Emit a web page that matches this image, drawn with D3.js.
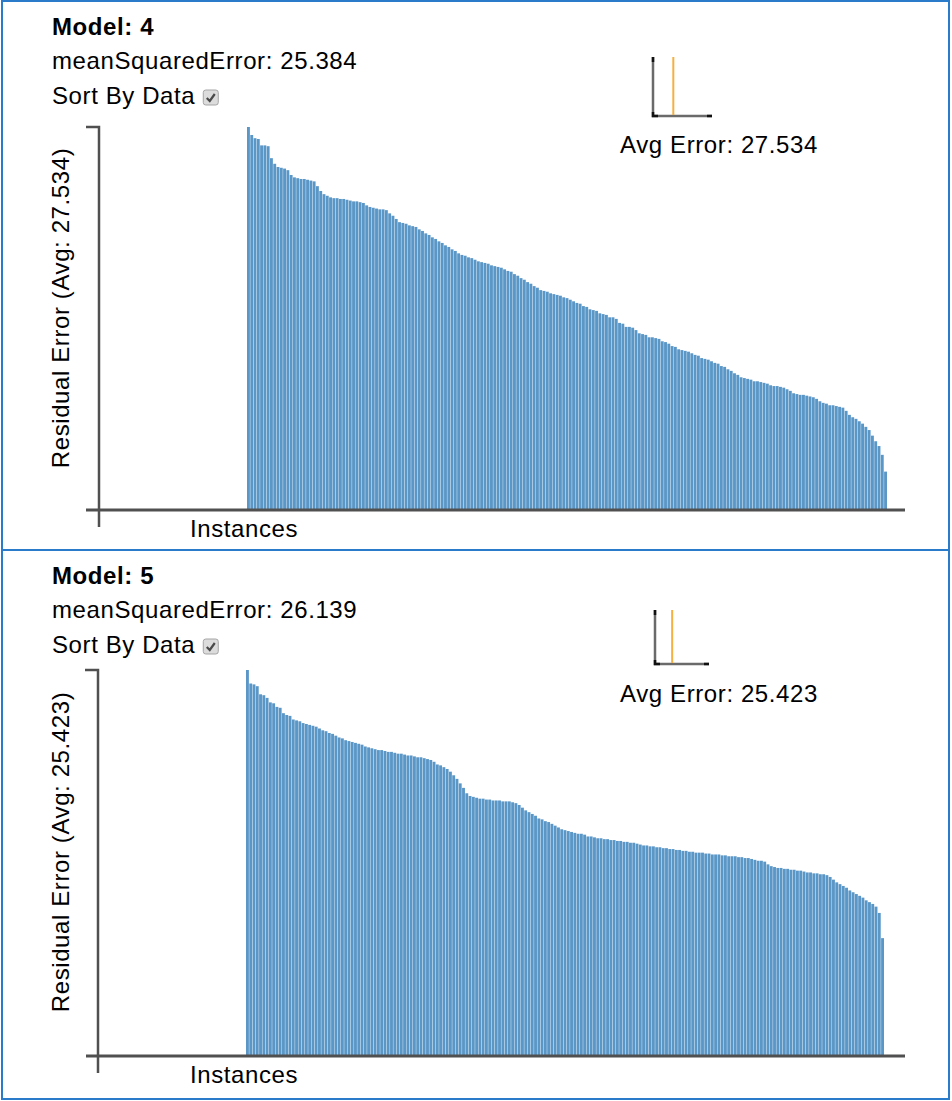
<!DOCTYPE html>
<html>
<head>
<meta charset="utf-8">
<script src="https://cdn.jsdelivr.net/npm/d3@7"></script>
<style>
    body { margin: 0; background: #fff; }
    svg text { font-family: "Liberation Sans", Arial, sans-serif; fill: #000; letter-spacing: 0.6px; }
</style>
</head>
<body>
<div class="d3-canvas"></div>
<script>
// Data (residual error per instance, already sorted)
const modelNames = ["4", "5"];
const mseValues = ["25.384", "26.139"];
const avgErrors = [27.534, 25.423];

const model4Errors = [47.9,46.9,46.5,46.4,45.6,45.6,45.5,44.0,43.3,42.9,
    42.8,42.7,42.5,41.9,41.6,41.5,41.4,41.4,41.3,41.2,
    41.1,40.5,39.9,39.5,39.3,39.1,39.0,39.0,38.9,38.9,
    38.8,38.7,38.6,38.6,38.5,38.4,38.1,37.9,37.8,37.7,
    37.6,37.6,37.5,37.1,36.8,36.4,36.0,35.9,35.8,35.6,
    35.5,35.4,35.1,34.9,34.6,34.4,34.1,33.9,33.6,33.4,
    33.1,32.9,32.6,32.4,32.1,31.9,31.8,31.6,31.5,31.3,
    31.1,31.0,30.9,30.8,30.6,30.5,30.4,30.3,30.1,29.9,
    29.8,29.5,29.3,29.0,28.8,28.5,28.3,28.0,27.8,27.5,
    27.4,27.3,27.1,27.0,26.9,26.8,26.6,26.5,26.3,26.1,
    25.9,25.8,25.5,25.4,25.1,25.0,24.9,24.6,24.5,24.4,
    24.1,24.1,23.9,23.4,23.3,22.9,22.9,22.8,22.5,22.1,
    22.0,21.9,21.6,21.6,21.5,21.4,21.1,21.0,20.8,20.5,
    20.4,20.1,20.0,19.9,19.8,19.6,19.4,19.3,19.0,18.9,
    18.8,18.6,18.4,18.3,18.0,17.9,17.6,17.4,17.1,16.9,
    16.6,16.5,16.4,16.3,16.1,16.1,16.0,15.9,15.8,15.6,
    15.5,15.5,15.4,15.3,15.1,14.9,14.6,14.5,14.4,14.4,
    14.3,14.2,14.1,13.9,13.6,13.4,13.3,13.1,13.1,13.0,
    12.9,12.8,12.4,11.9,11.6,11.4,11.1,10.8,10.4,10.0,
    9.3,8.6,8.0,6.9,4.8];

const model5Errors = [42.9,41.4,41.3,41.1,40.2,40.1,39.8,39.3,39.2,38.8,
    38.7,38.1,37.9,37.8,37.4,37.3,37.2,37.0,36.9,36.8,
    36.7,36.6,36.4,36.2,36.1,35.9,35.8,35.6,35.4,35.3,
    35.1,35.0,34.9,34.8,34.7,34.6,34.4,34.3,34.2,34.1,
    34.0,34.0,33.9,33.8,33.8,33.7,33.6,33.6,33.5,33.4,
    33.4,33.3,33.2,33.2,33.1,33.0,32.9,32.7,32.4,32.3,
    32.1,31.9,31.6,31.2,30.8,30.3,29.8,29.2,28.9,28.8,
    28.7,28.6,28.6,28.5,28.5,28.4,28.4,28.4,28.3,28.3,
    28.3,28.2,28.1,27.9,27.6,27.3,27.1,26.9,26.7,26.4,
    26.3,26.1,26.0,25.8,25.6,25.4,25.2,25.1,25.0,24.9,
    24.8,24.7,24.7,24.6,24.4,24.4,24.3,24.2,24.2,24.1,
    24.1,24.0,24.0,23.9,23.9,23.8,23.8,23.7,23.7,23.6,
    23.5,23.4,23.4,23.3,23.3,23.2,23.2,23.1,23.1,23.0,
    23.0,22.9,22.9,22.8,22.8,22.7,22.7,22.6,22.6,22.6,
    22.5,22.5,22.4,22.4,22.4,22.3,22.3,22.2,22.2,22.2,
    22.1,22.1,22.0,22.0,21.9,21.8,21.7,21.7,21.6,21.3,
    21.1,21.0,20.9,20.9,20.8,20.8,20.7,20.7,20.6,20.6,
    20.5,20.4,20.4,20.3,20.3,20.2,20.2,20.1,19.9,19.6,
    19.3,19.1,18.9,18.7,18.4,18.2,18.0,17.8,17.6,17.3,
    17.1,16.9,16.6,15.9,13.1];

const errorSeries = [model4Errors, model5Errors];

// Constants
const WIDTH = 952;
const HEIGHT = 1101;
const FONT_SIZE = 24;
const BAR_COLOR = "#5a97c7";
const AXIS_COLOR = "#505050";
const BORDER_COLOR = "#2a7bc9";

// per panel layout (the two panels are not exactly equal in the reference)
const layouts = [
    { top: 1, height: 549, textY: [35, 69, 104], barLeft: 247, barRight: 887, base: 510, peak: 127,
      axisX: 99, miniTop: 57, miniBase: 116, miniLeft: 653, miniRight: 712, avgY: 153, labelY: 308 },
    { top: 550, height: 549, textY: [584, 618, 653], barLeft: 246, barRight: 884, base: 1056, peak: 670,
      axisX: 98, miniTop: 610, miniBase: 664, miniLeft: 655, miniRight: 709, avgY: 702, labelY: 852 }
];

const svg = d3.select(".d3-canvas")
    .append("svg")
        .attr("width", WIDTH)
        .attr("height", HEIGHT);

const line = d3.line();

function drawPanel(i) {
    const L = layouts[i];
    const values = errorSeries[i];
    const g = svg.append("g").attr("class", "panel-" + i);

    // panel border
    g.append("rect")
        .attr("x", 2).attr("y", L.top)
        .attr("width", WIDTH - 5).attr("height", L.height)
        .attr("fill", "none")
        .attr("stroke", BORDER_COLOR)
        .attr("stroke-width", 2);

    // header texts
    g.append("text")
        .attr("x", 52).attr("y", L.textY[0])
        .attr("font-size", FONT_SIZE).attr("font-weight", "bold")
        .text("Model: " + modelNames[i]);
    g.append("text")
        .attr("x", 52).attr("y", L.textY[1])
        .attr("font-size", FONT_SIZE)
        .text("meanSquaredError: " + mseValues[i]);
    const sortLabel = g.append("text")
        .attr("x", 52).attr("y", L.textY[2])
        .attr("font-size", FONT_SIZE)
        .text("Sort By Data");

    // checkbox (old style, checked), placed right after the label
    const cbX = 52 + sortLabel.node().getComputedTextLength() + 8;
    const cb = g.append("g").attr("transform", `translate(${cbX},${L.textY[2] - 14})`);
    cb.append("rect")
        .attr("width", 15).attr("height", 15).attr("rx", 2.5)
        .attr("fill", "#dcdcdc").attr("stroke", "#a5a5a5");
    cb.append("path")
        .attr("d", "M3.5,8 L6.5,11 L11.5,4")
        .attr("fill", "none").attr("stroke", "#4a4a4a").attr("stroke-width", 2.2);

    // scales
    const x = d3.scaleBand()
        .domain(d3.range(values.length))
        .range([L.barLeft, L.barRight])
        .paddingInner(0.12)
        .paddingOuter(0);
    const y = d3.scaleLinear()
        .domain([0, d3.max(values)])
        .range([L.base, L.peak]);

    // bars
    g.append("g").selectAll("rect")
        .data(values)
        .join("rect")
            .attr("x", (d, k) => x(k))
            .attr("width", x.bandwidth())
            .attr("y", d => y(d))
            .attr("height", d => L.base - y(d))
            .attr("fill", BAR_COLOR);

    // y axis with top outer tick, extends below the x axis
    g.append("path")
        .attr("d", line([[L.axisX - 13, y(d3.max(values))], [L.axisX, y(d3.max(values))], [L.axisX, L.base + 17]]))
        .attr("fill", "none").attr("stroke", AXIS_COLOR).attr("stroke-width", 2.5);

    // x axis
    g.append("path")
        .attr("d", line([[86, L.base], [905, L.base]]))
        .attr("fill", "none").attr("stroke", AXIS_COLOR).attr("stroke-width", 3);

    // axis labels
    g.append("text")
        .attr("transform", `translate(69,${L.labelY}) rotate(-90)`)
        .attr("text-anchor", "middle")
        .attr("font-size", FONT_SIZE)
        .text(`Residual Error (Avg: ${avgErrors[i].toFixed(3)})`);
    g.append("text")
        .attr("x", 244).attr("y", L.base + 27)
        .attr("text-anchor", "middle")
        .attr("font-size", FONT_SIZE)
        .text("Instances");

    // small avg error marker
    const miniX = d3.scaleLinear().domain([0, 80]).range([L.miniLeft, L.miniRight]);
    g.append("path")
        .attr("d", line([[L.miniLeft, L.miniTop], [L.miniLeft, L.miniBase], [L.miniRight, L.miniBase]]))
        .attr("fill", "none").attr("stroke", "#6a6a6a").attr("stroke-width", 2.5);
    // darker tick ends
    g.append("path")
        .attr("d", line([[L.miniLeft, L.miniTop], [L.miniLeft, L.miniTop + 5]]) +
                   line([[L.miniLeft, L.miniBase - 4], [L.miniLeft, L.miniBase], [L.miniLeft + 5, L.miniBase]]) +
                   line([[L.miniRight - 5, L.miniBase], [L.miniRight, L.miniBase]]))
        .attr("fill", "none").attr("stroke", "#111").attr("stroke-width", 2.5);
    g.append("path")
        .attr("d", line([[miniX(avgErrors[i]), L.miniTop], [miniX(avgErrors[i]), L.miniBase - 1]]))
        .attr("stroke", "#f5b041").attr("stroke-width", 2);

    g.append("text")
        .attr("x", 719).attr("y", L.avgY)
        .attr("text-anchor", "middle")
        .attr("font-size", FONT_SIZE)
        .text("Avg Error: " + avgErrors[i].toFixed(3));
}

drawPanel(0);
drawPanel(1);
</script>
</body>
</html>
